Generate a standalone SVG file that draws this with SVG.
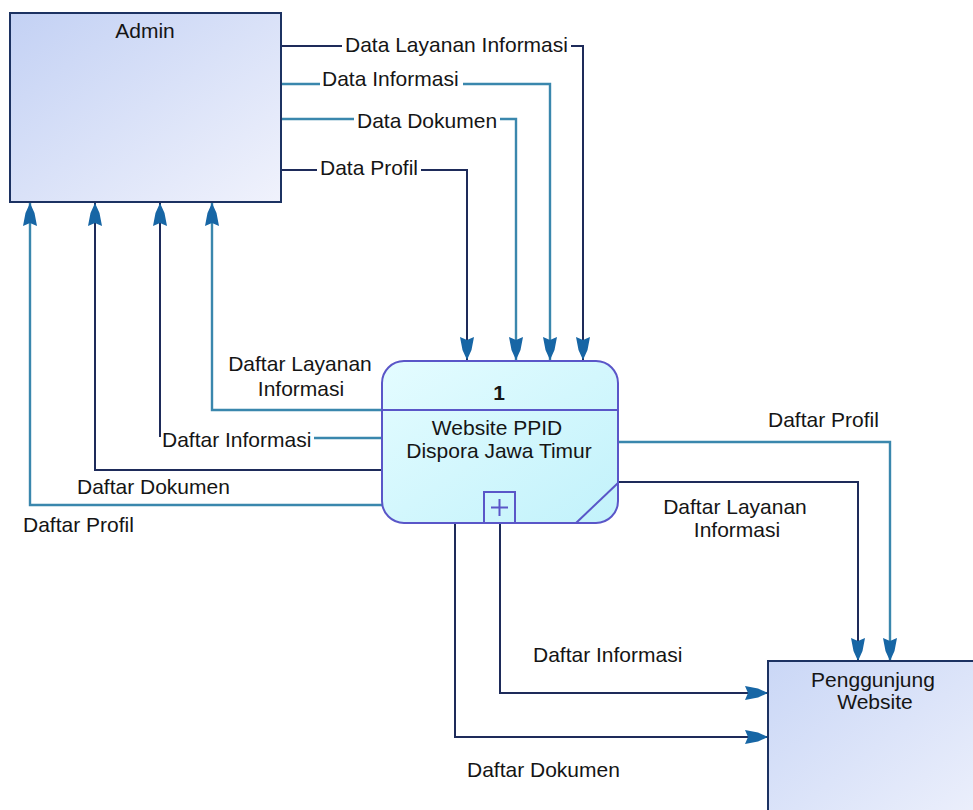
<svg xmlns="http://www.w3.org/2000/svg" width="973" height="810" viewBox="0 0 973 810">
  <defs>
    <linearGradient id="gEnt" x1="0" y1="0" x2="1" y2="1">
      <stop offset="0" stop-color="#c3d1f4"/>
      <stop offset="1" stop-color="#f0f2fc"/>
    </linearGradient>
    <linearGradient id="gEnt2" x1="0" y1="0" x2="1" y2="1">
      <stop offset="0" stop-color="#cad7f6"/>
      <stop offset="1" stop-color="#eef1fc"/>
    </linearGradient>
    <linearGradient id="gProc" x1="0" y1="0" x2="1" y2="1">
      <stop offset="0" stop-color="#e4fcff"/>
      <stop offset="1" stop-color="#c2f2fb"/>
    </linearGradient>
    <marker id="arr" markerUnits="userSpaceOnUse" viewBox="-24 -8 26 16" refX="0" refY="0" markerWidth="26" markerHeight="16" orient="auto" overflow="visible">
      <path d="M0 0 L-10 -4.5 L-23 -7 L-20 0 L-23 7 L-10 4.5 Z" fill="#1766a5"/>
    </marker>
    <style>
      .t { font-family: "Liberation Sans", Arial, sans-serif; font-size: 21px; fill: #151515; }
      .c { text-anchor: middle; }
      .ent { fill: url(#gEnt); stroke: #1c3262; stroke-width: 2; }
      .proc { fill: url(#gProc); stroke: #5a56c8; stroke-width: 2; }
      .pl { fill: none; stroke: #5a56c8; stroke-width: 2; }
      .dk { fill: none; stroke: #1e2b5a; stroke-width: 2; marker-end: url(#arr); }
      .tl { fill: none; stroke: #3a87ad; stroke-width: 2.4; marker-end: url(#arr); }
      .tln { fill: none; stroke: #3a87ad; stroke-width: 2.4; }
    </style>
  </defs>
  <rect width="973" height="810" fill="#ffffff"/>

  <g id="connectors">
    <path class="dk" d="M281 46 H342 M571 46 H583 V360"/>
    <path class="tl" d="M281 84 H320 M463 84 H550 V360"/>
    <path class="tl" d="M281 119 H354 M500 119 H516 V360"/>
    <path class="dk" d="M281 170 H317 M421 170 H467 V360"/>
    <path class="tl" d="M382 410 H212 V203"/>
    <path class="tln" d="M382 438 H314"/>
    <path class="dk" d="M160 437 V203"/>
    <path class="dk" d="M382 470 H95 V203"/>
    <path class="tl" d="M382 505 H30 V203"/>
    <path class="tl" d="M618 442 H890 V661"/>
    <path class="dk" d="M618 482 H858 V661"/>
    <path class="dk" d="M500 523 V693 H768"/>
    <path class="dk" d="M455 523 V737 H768"/>
  </g>

  <g id="labels">
    <text class="t" x="345" y="52">Data Layanan Informasi</text>
    <text class="t" x="322" y="86">Data Informasi</text>
    <text class="t" x="357" y="128">Data Dokumen</text>
    <text class="t" x="320" y="175">Data Profil</text>
    <text class="t c" x="300" y="371">Daftar Layanan</text>
    <text class="t c" x="301" y="396">Informasi</text>
    <text class="t" x="162" y="447">Daftar Informasi</text>
    <text class="t" x="77" y="494">Daftar Dokumen</text>
    <text class="t" x="23" y="532">Daftar Profil</text>
    <text class="t" x="768" y="427">Daftar Profil</text>
    <text class="t c" x="735" y="514">Daftar Layanan</text>
    <text class="t c" x="737" y="537">Informasi</text>
    <text class="t" x="533" y="662">Daftar Informasi</text>
    <text class="t" x="467" y="777">Daftar Dokumen</text>
  </g>

  <g id="admin">
    <rect class="ent" x="10" y="13" width="271" height="189"/>
    <text class="t c" x="145" y="38">Admin</text>
  </g>

  <g id="process1">
    <rect class="proc" x="382" y="361" width="236" height="162" rx="22" ry="22"/>
    <line class="pl" x1="382" y1="410" x2="618" y2="410"/>
    <text class="t c" x="499" y="400" font-weight="bold">1</text>
    <text class="t c" x="497" y="435">Website PPID</text>
    <text class="t c" x="499" y="458">Dispora Jawa Timur</text>
    <rect class="pl" x="484" y="492" width="31" height="31"/>
    <path class="pl" d="M499.5 499 V516 M491 507.5 H508" stroke-width="1.6"/>
    <line class="pl" x1="576" y1="523" x2="618" y2="483"/>
  </g>

  <g id="pengunjung">
    <rect x="768" y="661" width="220" height="170" fill="url(#gEnt2)" stroke="#1c3262" stroke-width="2"/>
    <text class="t c" x="873" y="687">Penggunjung</text>
    <text class="t c" x="875" y="709">Website</text>
  </g>
</svg>
